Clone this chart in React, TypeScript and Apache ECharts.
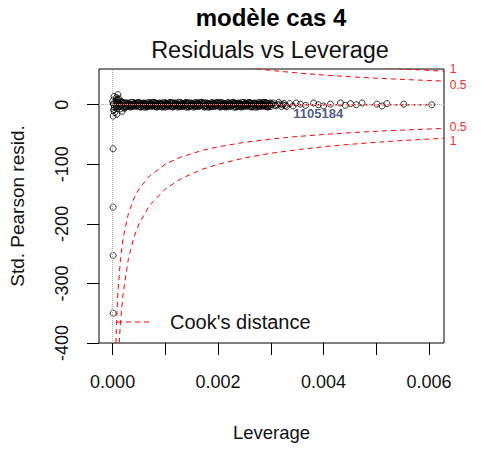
import React, { useEffect, useRef } from "react";
import * as echarts from "echarts";

const titleText = "modèle cas 4";
const subtitleText = "Residuals vs Leverage";
const xName = "Leverage";
const yName = "Std. Pearson resid.";
const legendText = "Cook's distance";

const xTicks = [0, 0.001, 0.002, 0.003, 0.004, 0.005, 0.006];
const xLabels = [0, 0.002, 0.004, 0.006];
const yTicks = [-400, -300, -200, -100, 0];

// dense band of points near zero residual
const bandRowA = [
  [0, 6], [0.00005, -5], [0.0001, 9], [0.00015, 4], [0.0002, -4], [0.00025, 3], [0.0003, -3], [0.00035, 4], [0.0004, -2], [0.00045, 3],
  [0.0005, -3], [0.00055, 2], [0.0006, -4], [0.00065, 3], [0.0007, -2], [0.00075, 4], [0.0008, -3], [0.00085, 2], [0.0009, -3], [0.00095, 3],
  [0.001, -4], [0.00105, 2], [0.0011, -3], [0.00115, 3], [0.0012, -2], [0.00125, 4], [0.0013, -3], [0.00135, 2], [0.0014, -4], [0.00145, 3],
  [0.0015, -2], [0.00155, 3], [0.0016, -3], [0.00165, 4], [0.0017, -2], [0.00175, 3], [0.0018, -4], [0.00185, 2], [0.0019, -3], [0.00195, 3],
  [0.002, -2], [0.00205, 4], [0.0021, -3], [0.00215, 2], [0.0022, -3], [0.00225, 3], [0.0023, -4], [0.00235, 2], [0.0024, -3], [0.00245, 4],
  [0.0025, -2], [0.00255, 3], [0.0026, -3], [0.00265, 2], [0.0027, -4], [0.00275, 3], [0.0028, -2], [0.00285, 4], [0.0029, -3], [0.00295, 2],
  [0.003, -3], [0.00305, 3], [0.0031, -2], [0.00315, 4], [0.0032, -3], [0.00325, 2], [0.0033, -3],
];
const bandRowB = [
  [0.000025, -8], [0.000075, 12], [0.000125, -3], [0.000175, 5], [0.000225, -6], [0.000275, 1], [0.000325, -1], [0.000375, 0], [0.000425, 1], [0.000475, -1],
  [0.000525, 0], [0.000575, 1], [0.000625, 0], [0.000675, -1], [0.000725, 1], [0.000775, 0], [0.000825, -1], [0.000875, 0], [0.000925, 1], [0.000975, -1],
  [0.001025, 0], [0.001075, 1], [0.001125, -1], [0.001175, 0], [0.001225, 1], [0.001275, 0], [0.001325, -1], [0.001375, 1], [0.001425, 0], [0.001475, -1],
  [0.001525, 0], [0.001575, 1], [0.001625, -1], [0.001675, 0], [0.001725, 1], [0.001775, -1], [0.001825, 0], [0.001875, 1], [0.001925, 0], [0.001975, -1],
  [0.002025, 1], [0.002075, 0], [0.002125, -1], [0.002175, 0], [0.002225, 1], [0.002275, -1], [0.002325, 0], [0.002375, 1], [0.002425, -1], [0.002475, 0],
  [0.002525, 1], [0.002575, 0], [0.002625, -1], [0.002675, 1], [0.002725, 0], [0.002775, -1], [0.002825, 0], [0.002875, 1], [0.002925, -1], [0.002975, 0],
  [0.003025, 1], [0.003075, -1], [0.003125, 0], [0.003175, 1], [0.003225, 0], [0.003275, -1],
];
const bandRowCLev = [
  0.0000125, 0.0000625, 0.0001125, 0.0001625, 0.0002125, 0.0002625, 0.0003125, 0.0003625, 0.0004125, 0.0004625,
  0.0005125, 0.0005625, 0.0006125, 0.0006625, 0.0007125, 0.0007625, 0.0008125, 0.0008625, 0.0009125, 0.0009625,
  0.0010125, 0.0010625, 0.0011125, 0.0011625, 0.0012125, 0.0012625, 0.0013125, 0.0013625, 0.0014125, 0.0014625,
  0.0015125, 0.0015625, 0.0016125, 0.0016625, 0.0017125, 0.0017625, 0.0018125, 0.0018625, 0.0019125, 0.0019625,
  0.0020125, 0.0020625, 0.0021125, 0.0021625, 0.0022125, 0.0022625, 0.0023125, 0.0023625, 0.0024125, 0.0024625,
  0.0025125, 0.0025625, 0.0026125, 0.0026625, 0.0027125, 0.0027625, 0.0028125, 0.0028625, 0.0029125, 0.0029625,
];
const bandRowCRes = [
  2, -2, 3, -1, 2, -2, 1, -2, 2, -1, 2, -2, 1, -2, 2, -1, 2, -2, 1, -2,
  2, -1, 2, -2, 1, -2, 2, -1, 2, -2, 1, -2, 2, -1, 2, -2, 1, -2, 2, -1,
  2, -2, 1, -2, 2, -1, 2, -2, 1, -2, 2, -1, 2, -2, 1, -2, 2, -1, 2, -2,
];
const bandRowDLev = [
  0.0000375, 0.0000875, 0.0001375, 0.0001875, 0.0002375, 0.0002875, 0.0003375, 0.0003875, 0.0004375, 0.0004875,
  0.0005375, 0.0005875, 0.0006375, 0.0006875, 0.0007375, 0.0007875, 0.0008375, 0.0008875, 0.0009375, 0.0009875,
  0.0010375, 0.0010875, 0.0011375, 0.0011875, 0.0012375, 0.0012875, 0.0013375, 0.0013875, 0.0014375, 0.0014875,
  0.0015375, 0.0015875, 0.0016375, 0.0016875, 0.0017375, 0.0017875, 0.0018375, 0.0018875, 0.0019375, 0.0019875,
  0.0020375, 0.0020875, 0.0021375, 0.0021875, 0.0022375, 0.0022875, 0.0023375, 0.0023875, 0.0024375, 0.0024875,
  0.0025375, 0.0025875, 0.0026375, 0.0026875, 0.0027375, 0.0027875, 0.0028375, 0.0028875, 0.0029375, 0.0029875,
];
const bandRowDRes = [
  -4, 4, -3, 4, -4, 3, -4, 4, -3, 4, -4, 3, -4, 4, -3, 4, -4, 3, -4, 4,
  -3, 4, -4, 3, -4, 4, -3, 4, -4, 3, -4, 4, -3, 4, -4, 3, -4, 4, -3, 4,
  -4, 3, -4, 4, -3, 4, -4, 3, -4, 4, -3, 4, -4, 3, -4, 4, -3, 4, -4, 3,
];
const bandRowELev = [
  0.00002, 0.00007, 0.00012, 0.00017, 0.00022, 0.00027, 0.00032, 0.00037, 0.00042, 0.00047,
  0.00052, 0.00057, 0.00062, 0.00067, 0.00072, 0.00077, 0.00082, 0.00087, 0.00092, 0.00097,
  0.00102, 0.00107, 0.00112, 0.00117, 0.00122, 0.00127, 0.00132, 0.00137, 0.00142, 0.00147,
  0.00152, 0.00157, 0.00162, 0.00167, 0.00172, 0.00177, 0.00182, 0.00187, 0.00192, 0.00197,
  0.00202, 0.00207, 0.00212, 0.00217, 0.00222, 0.00227, 0.00232, 0.00237, 0.00242, 0.00247,
  0.00252, 0.00257, 0.00262, 0.00267, 0.00272, 0.00277, 0.00282, 0.00287, 0.00292, 0.00297,
];
const bandRowERes = [
  1, -3, 2, -1, 3, -2, 1, -3, 2, -1, 3, -2, 1, -3, 2, -1, 3, -2, 1, -3,
  2, -1, 3, -2, 1, -3, 2, -1, 3, -2, 1, -3, 2, -1, 3, -2, 1, -3, 2, -1,
  3, -2, 1, -3, 2, -1, 3, -2, 1, -3, 2, -1, 3, -2, 1, -3, 2, -1, 3, -2,
];
const bandRowFLev = [
  0.00004, 0.00009, 0.00014, 0.00019, 0.00024, 0.00029, 0.00034, 0.00039, 0.00044, 0.00049,
  0.00054, 0.00059, 0.00064, 0.00069, 0.00074, 0.00079, 0.00084, 0.00089, 0.00094, 0.00099,
  0.00104, 0.00109, 0.00114, 0.00119, 0.00124, 0.00129, 0.00134, 0.00139, 0.00144, 0.00149,
  0.00154, 0.00159, 0.00164, 0.00169, 0.00174, 0.00179, 0.00184, 0.00189, 0.00194, 0.00199,
  0.00204, 0.00209, 0.00214, 0.00219, 0.00224, 0.00229, 0.00234, 0.00239, 0.00244, 0.00249,
  0.00254, 0.00259, 0.00264, 0.00269, 0.00274, 0.00279, 0.00284, 0.00289, 0.00294, 0.00299,
];
const bandRowFRes = [
  -2, 1, -1, 3, -3, 2, -2, 1, -1, 3, -3, 2, -2, 1, -1, 3, -3, 2, -2, 1,
  -1, 3, -3, 2, -2, 1, -1, 3, -3, 2, -2, 1, -1, 3, -3, 2, -2, 1, -1, 3,
  -3, 2, -2, 1, -1, 3, -3, 2, -2, 1, -1, 3, -3, 2, -2, 1, -1, 3, -3, 2,
];
const nearZeroLev = [0.00001, 0.00004, 0.0001, 0.00002, 0.00006, 0.00003, 0.00008, 0.00012, 0.00018, 0.00007, 0.00015];
const nearZeroRes = [-19, -13, 17, -9, 8, 14, -16, 10, -11, 6, -7];

const sparseLev = [0.00336, 0.00342, 0.00348, 0.00356, 0.00366, 0.00381, 0.0039, 0.004, 0.00413, 0.00432, 0.00441, 0.00451, 0.00462, 0.00473, 0.00501, 0.00511, 0.0052, 0.00552, 0.00605];
const sparseRes = [2, -2, 3, 1, -1, 3, 0, -2, 1, 3, -1, 2, 0, 3, 1, -2, 2, 1, 0];

const outlierLev = [0.00001, 0.00001, 0.00001, 0.00001];
const outlierRes = [-74, -172, -253, -350];

const smoothLev = [0, 0.0005, 0.001, 0.002, 0.003, 0.004, 0.005, 0.00605];
const smoothRes = [0.5, 0.2, 0, 0, 0, 0, 0, 0];

// Cook's distance contours
const cook05Lev = [0.0000625, 0.00008, 0.0001, 0.00015, 0.0002, 0.0003, 0.0004, 0.0005, 0.0007, 0.001, 0.0013, 0.0017, 0.002, 0.0025, 0.003, 0.0035, 0.004, 0.0045, 0.005, 0.0055, 0.006, 0.00628];
const cook05Res = [400, 353.5, 316.2, 258.2, 223.6, 182.5, 158.1, 141.4, 119.5, 99.9, 87.6, 76.6, 70.6, 63.2, 57.6, 53.4, 49.9, 47.0, 44.6, 42.5, 40.7, 39.8];
const cook1Lev = [0.000125, 0.00015, 0.0002, 0.0003, 0.0004, 0.0005, 0.0007, 0.001, 0.0013, 0.0017, 0.002, 0.0025, 0.003, 0.0035, 0.004, 0.0045, 0.005, 0.0055, 0.006, 0.00628];
const cook1Res = [400, 365.1, 316.2, 258.2, 223.6, 200.0, 169.0, 141.4, 124.0, 108.4, 99.9, 89.3, 81.5, 75.5, 70.6, 66.5, 63.1, 60.1, 57.6, 56.3];

const idLabel = "1105184";
const idPoint = [0.0039, -14];

const FONT = "'Liberation Sans', Arial, sans-serif";

function zip(a: number[], b: number[]) {
  return a.map((v, i) => [v, b[i]]);
}

function cookSeries(lev: number[], res: number[], sign: number, label: string, dy: number) {
  return {
    type: "line",
    data: lev.map((v, i) => [v, sign * res[i]]),
    symbol: "none",
    clip: true,
    lineStyle: { color: "#ff0000", width: 1, type: [5, 4] },
    endLabel: { show: true, formatter: label, color: "#ff2a2a", fontSize: 12, fontFamily: FONT, distance: 6, offset: [0, dy] },
    z: 3,
    silent: true,
  };
}

export default function App() {
  const ref = useRef<HTMLDivElement>(null);
  useEffect(() => {
    if (!ref.current) return;
    const chart = echarts.init(ref.current, undefined, { renderer: "svg" });
    const pointStyle = { color: "transparent", borderColor: "#000", borderWidth: 1 };
    const pts = (data: any) => ({ type: "scatter", data, symbol: "circle", symbolSize: 6, itemStyle: pointStyle, z: 2, silent: true });
    chart.setOption({
      animation: false,
      backgroundColor: "#fff",
      textStyle: { fontFamily: FONT },
      grid: { left: 97, right: 37, top: 69, bottom: 106, show: true, borderColor: "#000", borderWidth: 1, backgroundColor: "transparent" },
      xAxis: {
        type: "value",
        min: -0.000258,
        max: 0.006283,
        name: xName,
        nameLocation: "middle",
        nameGap: 80,
        nameTextStyle: { fontSize: 18.5, color: "#111", fontFamily: FONT },
        axisLine: { show: false, onZero: false },
        splitLine: { show: false },
        axisTick: { show: true, length: 12, lineStyle: { color: "#000" }, customValues: xTicks },
        axisLabel: {
          show: true, fontSize: 18, color: "#111", margin: 30, fontFamily: FONT,
          customValues: xLabels,
          formatter: (v: number) => v.toFixed(3),
        },
      },
      yAxis: {
        type: "value",
        min: -400,
        max: 60,
        name: yName,
        nameLocation: "middle",
        nameGap: 72,
        nameTextStyle: { fontSize: 19, color: "#111", fontFamily: FONT },
        axisLine: { show: false, onZero: false },
        splitLine: { show: false },
        axisTick: { show: true, length: 12, lineStyle: { color: "#000" }, customValues: yTicks },
        axisLabel: {
          show: true, fontSize: 18, color: "#111", margin: 28, rotate: 90, fontFamily: FONT,
          customValues: yTicks,
          formatter: (v: number) => String(v),
        },
      },
      series: [
        {
          type: "scatter",
          data: [],
          markLine: {
            silent: true,
            symbol: "none",
            label: { show: false },
            lineStyle: { color: "#aaa", type: "dotted", width: 1 },
            data: [{ yAxis: 0 }, { xAxis: 0 }],
          },
          z: 1,
        },
        pts(bandRowA),
        pts(bandRowB),
        pts(zip(bandRowCLev, bandRowCRes)),
        pts(zip(bandRowDLev, bandRowDRes)),
        pts(zip(bandRowELev, bandRowERes)),
        pts(zip(bandRowFLev, bandRowFRes)),
        pts(zip(nearZeroLev, nearZeroRes)),
        pts(zip(sparseLev, sparseRes)),
        pts(zip(outlierLev, outlierRes)),
        {
          type: "line", data: zip(smoothLev, smoothRes), symbol: "none", z: 4, silent: true,
          lineStyle: { color: "#ff0000", width: 1.5, type: [3, 3] },
        },
        cookSeries(cook05Lev, cook05Res, 1, "0.5", 4),
        cookSeries(cook05Lev, cook05Res, -1, "0.5", -1),
        cookSeries(cook1Lev, cook1Res, 1, "1", -2),
        cookSeries(cook1Lev, cook1Res, -1, "1", 3),
        {
          type: "scatter", data: [idPoint], symbolSize: 0, z: 5, silent: true,
          label: { show: true, position: "inside", formatter: idLabel, fontSize: 13, fontWeight: "bold", color: "#1d2f66", fontFamily: FONT },
        },
      ],
      graphic: [
        { type: "text", x: 271, y: 17, style: { text: titleText, fill: "#000", font: `bold 24px ${FONT}`, textAlign: "center", textVerticalAlign: "middle" } },
        { type: "text", x: 270, y: 50, style: { text: subtitleText, fill: "#111", font: `23.5px ${FONT}`, textAlign: "center", textVerticalAlign: "middle" } },
        { type: "line", shape: { x1: 117, y1: 322, x2: 152, y2: 322 }, style: { stroke: "#ff0000", lineWidth: 1, lineDash: [5, 4] } },
        { type: "text", x: 170, y: 322, style: { text: legendText, fill: "#111", font: `20px ${FONT}`, textAlign: "left", textVerticalAlign: "middle" } },
      ],
    });
    return () => chart.dispose();
  }, []);
  return <div ref={ref} style={{ position: "absolute", left: 0, top: 0, width: 481, height: 449 }} />;
}
